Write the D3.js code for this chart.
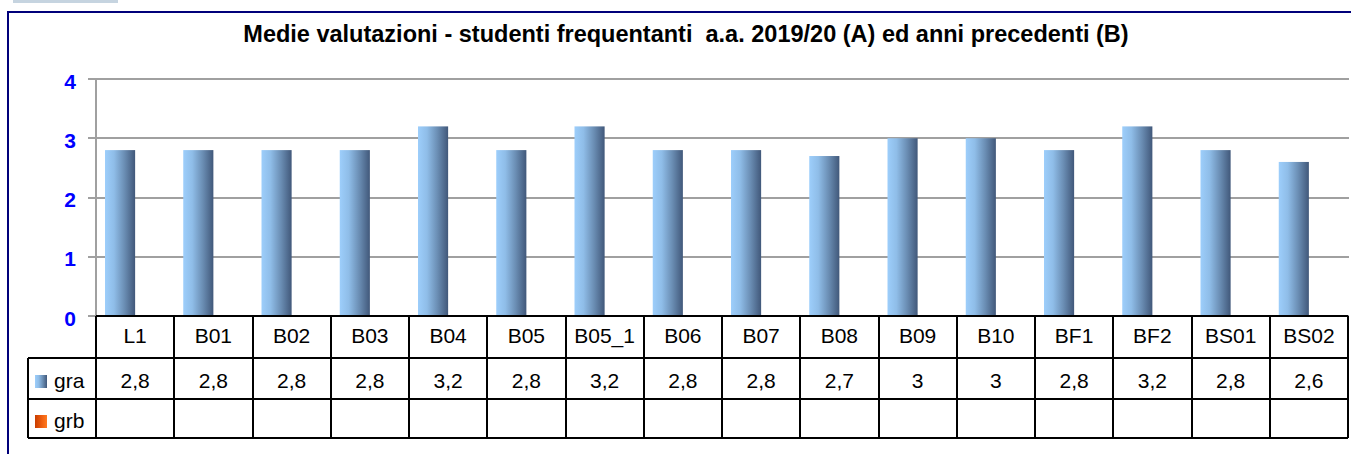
<!DOCTYPE html>
<html>
<head>
<meta charset="utf-8">
<script src="https://cdn.jsdelivr.net/npm/d3@7"></script>
<style>
  body { margin: 0; background: #fff; }
  text { font-family: "Liberation Sans", Arial, sans-serif; }
</style>
</head>
<body>
<script>
// data
const categories = ['L1','B01','B02','B03','B04','B05','B05_1','B06','B07','B08','B09','B10','BF1','BF2','BS01','BS02'];
const series = ['gra','grb'];
const graValues = [2.8, 2.8, 2.8, 2.8, 3.2, 2.8, 3.2, 2.8, 2.8, 2.7, 3, 3, 2.8, 3.2, 2.8, 2.6];
const grbValues = [null, null, null, null, null, null, null, null, null, null, null, null, null, null, null, null];
const yTicks = [0, 1, 2, 3, 4];
const title = 'Medie valutazioni - studenti frequentanti  a.a. 2019/20 (A) ed anni precedenti (B)';

const W = 1351, H = 454;
const svg = d3.select('body').append('svg')
    .attr('width', W)
    .attr('height', H)

const defs = svg.append('defs')
function grad(id, stops){
    const g = defs.append('linearGradient').attr('id', id)
        .attr('x1', '0%').attr('x2', '100%').attr('y1', '0%').attr('y2', '0%')
    stops.forEach(s => g.append('stop').attr('offset', s[0]).attr('stop-color', s[1]))
}
grad('gGra', [['0%', '#9dcefb'], ['30%', '#8fbde8'], ['65%', '#6a8db3'], ['100%', '#41587a']])
grad('gGrb', [['0%', '#c83c00'], ['60%', '#f06010'], ['100%', '#ff7a20']])

svg.append('rect').attr('width', W).attr('height', H).attr('fill', '#fff')

// little tab at the top left
svg.append('rect').attr('x', 13).attr('y', 0).attr('width', 105).attr('height', 3).attr('fill', '#c6d4e0')

// frame
svg.append('path')
    .attr('d', `M8,${H} L8,12 L${W},12`)
    .attr('fill', 'none')
    .attr('stroke', '#00007a')
    .attr('stroke-width', 2)

// title
svg.append('text')
    .attr('x', 686).attr('y', 42)
    .attr('text-anchor', 'middle')
    .attr('font-size', 23.5)
    .attr('font-weight', 'bold')
    .attr('xml:space', 'preserve')
    .style('white-space', 'pre')
    .text(title)

const left = 96, right = 1348
const y = d3.scaleLinear().domain([0, 4]).range([316, 79])
const x0 = d3.scaleBand().domain(categories).range([left, right]).padding(0)
const x1 = d3.scaleBand().domain(series).range([9, x0.bandwidth() - 9]).padding(0)

// gridlines + ticks
svg.append('g').selectAll('line')
    .data(yTicks)
    .enter()
    .append('line')
    .attr('x1', 88).attr('x2', 1349)
    .attr('y1', d => Math.round(y(d))).attr('y2', d => Math.round(y(d)))
    .attr('stroke', '#a0a0a0')
    .attr('stroke-width', 2)

svg.append('line')
    .attr('x1', left).attr('x2', left)
    .attr('y1', y(4)).attr('y2', y(0))
    .attr('stroke', '#a0a0a0')
    .attr('stroke-width', 2)

svg.append('g').selectAll('text')
    .data(yTicks)
    .enter()
    .append('text')
    .attr('x', 76)
    .attr('y', d => y(d) + 9.5)
    .attr('text-anchor', 'end')
    .attr('font-size', 21)
    .attr('font-weight', 'bold')
    .attr('fill', '#0000ff')
    .text(d => d)

// bars
const rows = categories.map((c, i) => ({cat: c, gra: graValues[i], grb: grbValues[i]}))
const groups = svg.append('g').selectAll('g')
    .data(rows)
    .enter()
    .append('g')
    .attr('transform', d => `translate(${x0(d.cat)},0)`)

groups.selectAll('rect')
    .data(d => series.map(s => ({key: s, value: d[s]})).filter(v => v.value != null))
    .enter()
    .append('rect')
    .attr('x', d => x1(d.key))
    .attr('width', x1.bandwidth())
    .attr('y', d => y(d.value))
    .attr('height', d => y(0) - y(d.value))
    .attr('fill', d => d.key == 'gra' ? 'url(#gGra)' : 'url(#gGrb)')

// data table
const rowTop = [316, 358, 399, 438]
const tableLeft = 28
const tbl = svg.append('g').attr('stroke', '#000').attr('stroke-width', 2)

// horizontal lines
tbl.append('line').attr('x1', left).attr('x2', right).attr('y1', rowTop[0]).attr('y2', rowTop[0])
rowTop.slice(1).forEach(r => {
    tbl.append('line').attr('x1', tableLeft).attr('x2', right).attr('y1', r).attr('y2', r)
})
// vertical lines
tbl.append('line').attr('x1', tableLeft).attr('x2', tableLeft).attr('y1', rowTop[1]).attr('y2', rowTop[3])
categories.forEach(c => {
    const xi = Math.round(x0(c))
    tbl.append('line').attr('x1', xi).attr('x2', xi).attr('y1', rowTop[0]).attr('y2', rowTop[3])
})
tbl.append('line').attr('x1', right).attr('x2', right).attr('y1', rowTop[0]).attr('y2', rowTop[3])

const fmt = v => v == null ? '' : String(v).replace('.', ',')
const fs = 21

svg.append('g').selectAll('text')
    .data(categories)
    .enter()
    .append('text')
    .attr('x', d => x0(d) + x0.bandwidth() / 2)
    .attr('y', 343)
    .attr('text-anchor', 'middle')
    .attr('font-size', fs)
    .text(d => d)

svg.append('g').selectAll('text')
    .data(rows)
    .enter()
    .append('text')
    .attr('x', d => x0(d.cat) + x0.bandwidth() / 2)
    .attr('y', 388)
    .attr('text-anchor', 'middle')
    .attr('font-size', fs)
    .text(d => fmt(d.gra))

svg.append('g').selectAll('text')
    .data(rows)
    .enter()
    .append('text')
    .attr('x', d => x0(d.cat) + x0.bandwidth() / 2)
    .attr('y', 428)
    .attr('text-anchor', 'middle')
    .attr('font-size', fs)
    .text(d => fmt(d.grb))

// legend keys in the table
series.forEach((s, i) => {
    const base = i == 0 ? 388 : 428
    svg.append('rect')
        .attr('x', 35).attr('y', base - 13)
        .attr('width', 12).attr('height', 13)
        .attr('fill', s == 'gra' ? 'url(#gGra)' : 'url(#gGrb)')
    svg.append('text')
        .attr('x', 54).attr('y', base)
        .attr('font-size', fs)
        .text(s)
})
</script>
</body>
</html>
